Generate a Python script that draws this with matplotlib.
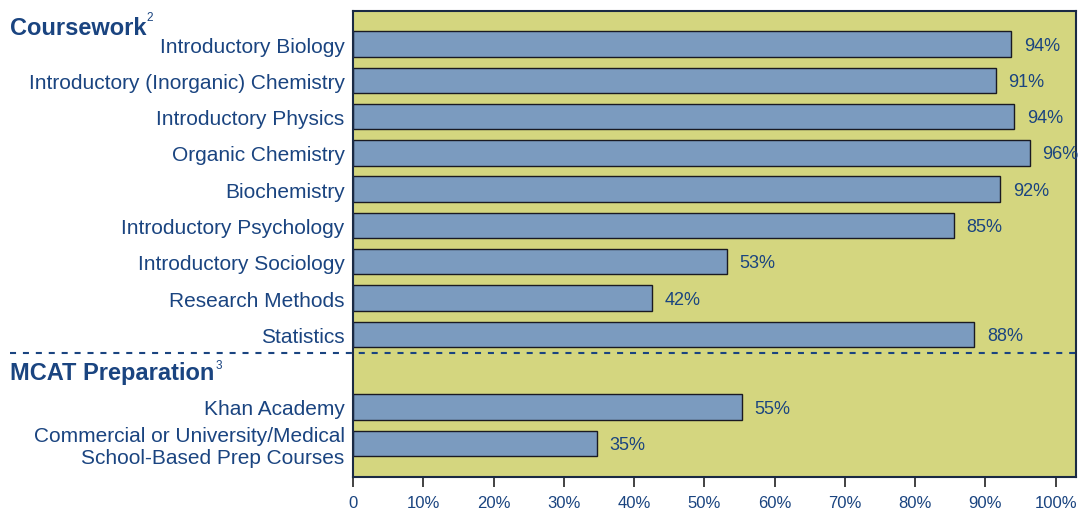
import numpy as np
import matplotlib.pyplot as plt
import matplotlib.lines as mlines

plt.rcParams['font.family'] = ['Liberation Sans', 'DejaVu Sans']

# data
course_names = ["Introductory Biology", "Introductory (Inorganic) Chemistry",
                "Introductory Physics", "Organic Chemistry", "Biochemistry",
                "Introductory Psychology", "Introductory Sociology",
                "Research Methods", "Statistics"]
course_values = [93.7, 91.5, 94.1, 96.3, 92.1, 85.5, 53.2, 42.5, 88.4]
course_labels = ["94%", "91%", "94%", "96%", "92%", "85%", "53%", "42%", "88%"]

mcat_names = ["Khan Academy",
              "Commercial or University/Medical\nSchool-Based Prep Courses"]
mcat_values = [55.3, 34.7]
mcat_labels = ["55%", "35%"]

xticks = [0, 10, 20, 30, 40, 50, 60, 70, 80, 90, 100]
xtick_labels = ["0", "10%", "20%", "30%", "40%", "50%", "60%", "70%", "80%", "90%", "100%"]

navy = "#1a4480"
bg = "#d4d67f"
bar_col = "#7b9bbf"

fig = plt.figure(figsize=(10.78, 5.10), dpi=100)
ax = fig.add_axes([353 / 1078, 1 - 478 / 510, (1076 - 353) / 1078, (478 - 12) / 510])
ax.set_facecolor(bg)

names = course_names + mcat_names
values = course_values + mcat_values
labels = course_labels + mcat_labels
ypos = list(range(len(course_names))) + [10, 11]

ax.barh(ypos, values, height=0.7, color=bar_col, edgecolor="#1a1a22", linewidth=1.0)
for y, v, lab in zip(ypos, values, labels):
    ax.text(v + 1.8, y + 0.03, lab, va="center", ha="left", fontsize=13, color=navy, clip_on=False)

ax.set_xlim(0, 102.9)
ax.set_ylim(11.93, -0.91)
ax.set_yticks(ypos)
ax.set_yticklabels(names, fontsize=15, color=navy, linespacing=1.2)
ax.tick_params(axis="y", length=0, pad=6)
ax.set_xticks(xticks)
ax.set_xticklabels(xtick_labels, fontsize=12, color=navy)
ax.tick_params(axis="x", length=7, width=1.2, color="#222222", pad=6)
for s in ax.spines.values():
    s.set_color("#1a2a44")
    s.set_linewidth(1.5)

# section headers
ax.text(-0.475, -0.45, "Coursework", transform=ax.get_yaxis_transform(), fontsize=17,
        fontweight="bold", color=navy, va="center", ha="left")
fig.text(146 / 1078, 1 - 18 / 510, "2", fontsize=8.5, color=navy, va="center", ha="left")
ax.text(-0.475, 9.06, "MCAT Preparation", transform=ax.get_yaxis_transform(), fontsize=17,
        fontweight="bold", color=navy, va="center", ha="left")
fig.text(216 / 1078, 1 - 366 / 510, "3", fontsize=8.5, color=navy, va="center", ha="left")

# dashed divider
line = mlines.Line2D([-0.474, 1.0], [8.52, 8.52], transform=ax.get_yaxis_transform(),
                     color=navy, linestyle=(0, (2.9, 3.3)), linewidth=1.5, clip_on=False)
ax.add_line(line)

fig.savefig("out.png", dpi=100)
